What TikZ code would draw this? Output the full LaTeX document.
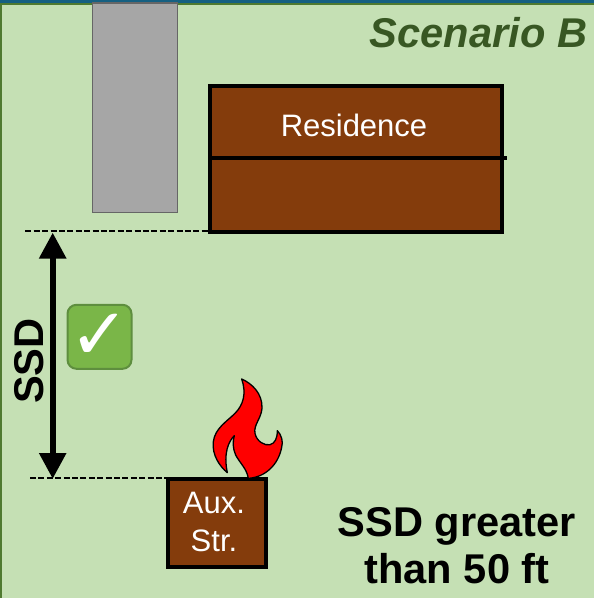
\documentclass[tikz,border=0pt]{standalone}
\usepackage{fontspec}
\setmainfont{Liberation Sans}
\newfontfamily\symbolfont{DejaVu Sans}
\usetikzlibrary{arrows.meta,positioning}
\definecolor{groundgreen}{HTML}{C5E0B4}
\definecolor{bordergreen}{HTML}{4F7A30}
\definecolor{titlegreen}{HTML}{385723}
\definecolor{topblue}{HTML}{156082}
\definecolor{woodbrown}{HTML}{843C0C}
\definecolor{drivegray}{HTML}{A6A6A6}
\definecolor{okgreen}{HTML}{7AB648}
\definecolor{okborder}{HTML}{5E8E3E}

\begin{document}
\begin{tikzpicture}[x=1pt, y=-1pt]
    % Define styles
    \tikzstyle{building}=[rectangle,draw=black,line width=4pt,fill=woodbrown,text=white,align=center,inner sep=0pt]
    \tikzstyle{drive}=[rectangle,draw=black!60,line width=1.5pt,fill=drivegray,minimum width=85pt,minimum height=209.7pt]
    \tikzstyle{okbox}=[rectangle,rounded corners=9pt,draw=okborder,line width=2pt,fill=okgreen,minimum width=64pt,minimum height=64pt,inner sep=0pt]
    \tikzstyle{bigtext}=[font=\fontsize{41.6}{47}\selectfont\bfseries,align=center,inner sep=0pt]
    \tikzstyle{smalltext}=[font=\fontsize{31}{38}\selectfont,text=white,align=center,inner sep=0pt]
    \tikzstyle{guide}=[draw=black,line width=1.7pt,dash pattern=on 6pt off 2.4pt]
    \tikzstyle{line}=[draw=black,line width=6.4pt,{Triangle[width=25.7pt,length=26pt]}-{Triangle[width=25.7pt,length=26pt]}]

    \path [use as bounding box] (0,0) rectangle (594,598);

    % Ground
    \fill [groundgreen] (0,0) rectangle (594,598);
    \fill [bordergreen] (0,0) rectangle (2,598);
    \fill [bordergreen] (0,3) rectangle (594,4.6);
    \fill [topblue] (0,0) rectangle (594,3);

    % Buildings
    \node [drive] (drive) at (135.2,107.8) {};
    \node [building, minimum width=291.6pt, minimum height=145.7pt] (residence) at (356.2,159.2) {};
    \node [building, minimum width=97.4pt, minimum height=87.7pt] (auxstr) at (217,522.8) {};

    % Labels
    \node [bigtext, text=titlegreen, anchor=base, font=\fontsize{41.6}{47}\selectfont\bfseries\itshape] (title) at (478.5,47) {Scenario B};
    \node [smalltext, anchor=base] (residencelabel) at (354,136) {Residence};
    \node [smalltext, anchor=base] (auxlabel) at (214,551) {Aux.\\Str.};
    \node [bigtext, anchor=base] (result) at (457,583) {SSD greater\\than 50 ft};
    \node [bigtext, rotate=90] (ssdlabel) at (29,361) {SSD};
    \node [okbox] (okbox) at (99.5,336.8) {};
    \node [text=white, inner sep=0pt, font=\symbolfont\fontsize{72}{72}\selectfont] (okmark) at (okbox) {✓};

    % Residence divider
    \coordinate (midleft) at (210.4,157.5);
    \coordinate (midright) at (506.7,157.5);
    \draw [draw=black, line width=4pt] (midleft) -- (midright);

    % Setback distance
    \coordinate (guidetop) at (25.3,231.3);
    \coordinate (guidebottom) at (30,478.3);
    \coordinate (arrowtop) at (52.7,232.5);
    \coordinate (arrowbottom) at (52.7,479);
    \path [guide] (guidetop) -- (guidetop -| residence.west);
    \path [guide] (guidebottom) -- (guidebottom -| auxstr.west);
    \path [line] (arrowtop) -- (arrowbottom);

    % Fire
    \begin{scope}[shift={(190,370)}, x=0.3333pt, y=-0.3333pt]
        \draw [draw=black, line width=1.3pt, fill=red, line join=round]
            (155,27) .. controls (185,40) and (218,70) .. (216,115)
            .. controls (214,145) and (190,165) .. (195,190)
            .. controls (200,215) and (225,228) .. (240,224)
            .. controls (255,220) and (262,205) .. (262,182)
            .. controls (275,195) and (280,215) .. (275,232)
            .. controls (265,285) and (225,322) .. (175,325)
            .. controls (170,295) and (150,280) .. (137,255)
            .. controls (128,235) and (128,215) .. (133,197)
            .. controls (115,215) and (100,250) .. (112,308)
            .. controls (90,290) and (65,255) .. (70,215)
            .. controls (75,175) and (110,155) .. (135,130)
            .. controls (160,105) and (170,70) .. (155,27) -- cycle;
    \end{scope}
\end{tikzpicture}
\end{document}
